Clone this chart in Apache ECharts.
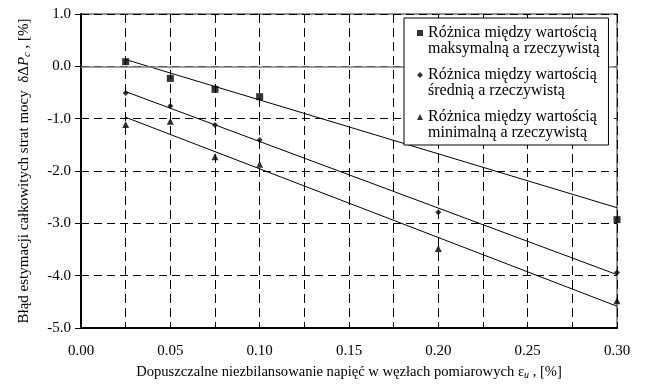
<!DOCTYPE html>
<html>
<head>
<meta charset="utf-8">
<script src="https://cdn.jsdelivr.net/npm/echarts@6/dist/echarts.min.js"></script>
<style>
  html, body { margin: 0; padding: 0; background: #fff; }
  #chart { width: 645px; height: 385px; }
</style>
</head>
<body>
<div id="chart"></div>
<script>
// Permitted voltage imbalance at measurement nodes, eps_u [%]
const epsU = [0.025, 0.05, 0.075, 0.10, 0.20, 0.30];

// Estimation error of total power losses, [%]
const errMax = [0.09, -0.23, -0.44, -0.58, -1.31, -2.93];
const errMean = [-0.51, -0.76, -1.12, -1.41, -2.79, -3.94];
const errMin = [-1.11, -1.05, -1.73, -1.87, -3.48, -4.48];

const seriesNames = [
  'Różnica między wartością\nmaksymalną a rzeczywistą',
  'Różnica między wartością\nśrednią a rzeczywistą',
  'Różnica między wartością\nminimalną a rzeczywistą'
];

const yTicks = { min: -5, max: 1, step: 1 };
const xTicks = { min: 0, max: 0.3, step: 0.025, labelStep: 0.05 };

// Least-squares trend line over the measured points
function trend(xs, ys) {
  const n = xs.length;
  const mx = xs.reduce((a, b) => a + b, 0) / n;
  const my = ys.reduce((a, b) => a + b, 0) / n;
  let sxy = 0, sxx = 0;
  for (let i = 0; i < n; i++) {
    sxy += (xs[i] - mx) * (ys[i] - my);
    sxx += (xs[i] - mx) * (xs[i] - mx);
  }
  const b = sxy / sxx;
  const a = my - b * mx;
  const x0 = xs[0], x1 = xs[n - 1];
  return [[x0, a + b * x0], [x1, a + b * x1]];
}

const pairs = (ys) => epsU.map((x, i) => [x, ys[i]]);

const font = 'Liberation Serif, Times New Roman, serif';

// Legend icons: the glyph sits at the top of a taller box so it lines up with the first text line
const legendIcons = [
  'path://M0,0H6V6H0Z M0,22L0.01,22',
  'path://M3,0L6,3L3,6L0,3Z M3,22L3.01,22',
  'path://M3,0L6,6H0Z M0,22L0.01,22'
];

const chart = echarts.init(document.getElementById('chart'), null, { renderer: 'canvas' });

const scatterBase = {
  type: 'scatter',
  itemStyle: { color: '#000' },
  z: 2
};
const lineBase = {
  type: 'line',
  symbol: 'none',
  lineStyle: { color: '#000', width: 1 },
  silent: true,
  z: 1
};

chart.setOption({
  animation: false,
  textStyle: { fontFamily: font, color: '#000' },
  grid: {
    left: 81, right: 28, top: 14, bottom: 54,
    show: true, borderColor: '#6f6f6f', borderWidth: 1.5, backgroundColor: 'transparent'
  },
  legend: {
    z: 20,
    left: 404, top: 18,
    orient: 'vertical',
    backgroundColor: '#fff',
    borderColor: '#000',
    borderWidth: 1,
    borderRadius: 0,
    padding: [7, 9, 4, 13],
    itemGap: 10,
    itemWidth: 6,
    itemHeight: 22,
    selectedMode: false,
    textStyle: { fontFamily: font, fontSize: 16, lineHeight: 16, color: '#000' },
    data: seriesNames.map((n, i) => ({ name: n, icon: legendIcons[i] }))
  },
  xAxis: {
    type: 'value',
    min: xTicks.min, max: xTicks.max, interval: xTicks.step,
    axisLine: { onZero: false, lineStyle: { color: '#000', width: 2 } },
    axisTick: { show: false },
    axisLabel: {
      fontFamily: font, fontSize: 15, color: '#000', margin: 16,
      formatter: (v) => {
        const k = Math.round(v / xTicks.step);
        return k % Math.round(xTicks.labelStep / xTicks.step) === 0 ? (k * xTicks.step).toFixed(2) : '';
      }
    },
    splitLine: { show: true, lineStyle: { color: '#000', width: 1, type: [9, 5] } },
    name: 'Dopuszczalne niezbilansowanie napięć w węzłach pomiarowych {n|ε}{s|u}{n| , [%]}',
    nameLocation: 'middle',
    nameGap: 36,
    nameTextStyle: {
      fontFamily: font, fontSize: 14.6, color: '#000',
      rich: {
        n: { fontFamily: font, fontSize: 14.6, color: '#000' },
        s: { fontFamily: font, fontSize: 10, fontStyle: 'italic', color: '#000', padding: [6, 0, 0, 0] }
      }
    }
  },
  yAxis: {
    type: 'value',
    min: yTicks.min, max: yTicks.max, interval: yTicks.step,
    axisLine: { onZero: false, lineStyle: { color: '#000', width: 2 } },
    axisTick: { show: true, length: 6, lineStyle: { color: '#000', width: 1 } },
    axisLabel: {
      fontFamily: font, fontSize: 15, color: '#000', margin: 10,
      formatter: (v) => v.toFixed(1)
    },
    splitLine: { show: true, lineStyle: { color: '#000', width: 1, type: [8, 5] } },
    name: 'Błąd estymacji całkowitych strat mocy  δΔ{i|P}{s|c}{n| , [%]}',
    nameLocation: 'middle',
    nameGap: 48,
    nameRotate: 90,
    nameTextStyle: {
      fontFamily: font, fontSize: 15, color: '#000',
      rich: {
        n: { fontFamily: font, fontSize: 15, color: '#000' },
        i: { fontFamily: font, fontSize: 15, fontStyle: 'italic', color: '#000' },
        s: { fontFamily: font, fontSize: 10.5, fontStyle: 'italic', color: '#000', padding: [6, 0, 0, 0] }
      }
    }
  },
  series: [
    Object.assign({}, scatterBase, { name: seriesNames[0], symbol: 'rect', symbolSize: 7, data: pairs(errMax) }),
    Object.assign({}, scatterBase, { name: seriesNames[1], symbol: 'diamond', symbolSize: 6, data: pairs(errMean) }),
    Object.assign({}, scatterBase, { name: seriesNames[2], symbol: 'triangle', symbolSize: 7, data: pairs(errMin) }),
    Object.assign({}, lineBase, {
      name: 'trend-max', data: trend(epsU, errMax),
      markLine: {
        silent: true, symbol: 'none', label: { show: false },
        lineStyle: { color: '#7f7f7f', width: 1.5, type: 'solid' },
        data: [{ yAxis: 0 }]
      }
    }),
    Object.assign({}, lineBase, { name: 'trend-mean', data: trend(epsU, errMean) }),
    Object.assign({}, lineBase, { name: 'trend-min', data: trend(epsU, errMin) })
  ]
});
</script>
</body>
</html>
